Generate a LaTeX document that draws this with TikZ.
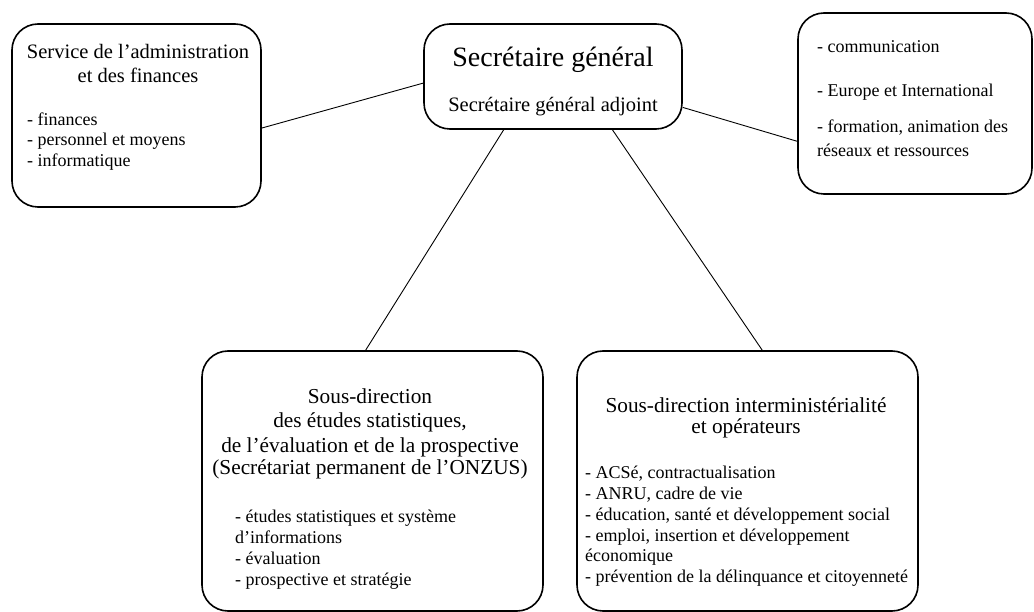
\documentclass[tikz,border=0pt]{standalone}
\usepackage{fontspec}
\setmainfont{Liberation Serif}
\usetikzlibrary{calc}
\tikzset{
  box/.style={draw=black, line width=1.6pt, rounded corners=26pt, inner sep=0pt, rectangle},
  link/.style={draw=black, line width=0.9pt},
  ctr/.style={inner sep=0pt, anchor=base},
  lft/.style={inner sep=0pt, anchor=base west},
  big/.style={font=\fontsize{28}{32}\selectfont},
  head/.style={font=\fontsize{20.5}{24}\selectfont},
  headb/.style={font=\fontsize{21.3}{24}\selectfont},
  item/.style={font=\fontsize{18}{20}\selectfont}
}
\begin{document}
\begin{tikzpicture}[x=1pt,y=-1pt]
\useasboundingbox (0,0) rectangle (1034,612);
% boxes
\node[box, minimum width=249pt, minimum height=183pt] (adm) at (136.5,115.5) {};
\node[box, minimum width=258pt, minimum height=105pt] (sg) at (553,76.5) {};
\node[box, minimum width=234pt, minimum height=181pt] (com) at (915,103.5) {};
\node[box, minimum width=341pt, minimum height=260pt] (etu) at (372.5,481) {};
\node[box, minimum width=341pt, minimum height=260pt] (ope) at (747.5,481) {};
% connectors
\draw[link] ($(adm.north east)!0.568!(adm.south east)$) -- ($(sg.north west)!0.562!(sg.south west)$);
\draw[link] ($(sg.north east)!0.79!(sg.south east)$) -- ($(com.north west)!0.707!(com.south west)$);
\draw[link] ($(sg.south west)!0.31!(sg.south east)$) -- ($(etu.north west)!0.48!(etu.north east)$);
\draw[link] ($(sg.south west)!0.729!(sg.south east)$) -- ($(ope.north west)!0.543!(ope.north east)$);
% centre
\node[ctr, big] (sg1) at (553,67) {Secrétaire général};
\node[ctr, head] (sg2) at (553,112) {Secrétaire général adjoint};
% left
\node[ctr, head] (adm1) at (138,59) {Service de l’administration};
\node[ctr, head] (adm2) at (138,83) {et des finances};
\node[lft, item] (adm3) at (27,126) {- finances};
\node[lft, item] (adm4) at (27,146) {- personnel et moyens};
\node[lft, item] (adm5) at (27,167) {- informatique};
% right
\node[lft, item] (com1) at (817,53) {- communication};
\node[lft, item] (com2) at (817,97) {- Europe et International};
\node[lft, item] (com3) at (817,133) {- formation, animation des};
\node[lft, item] (com4) at (817,157) {réseaux et ressources};
% bottom left
\node[ctr, headb] (etu1) at (370,403) {Sous-direction};
\node[ctr, headb] (etu2) at (370,427) {des études statistiques,};
\node[ctr, headb] (etu3) at (370,452) {de l’évaluation et de la prospective};
\node[ctr, headb] (etu4) at (370,474) {(Secrétariat permanent de l’ONZUS)};
\node[lft, item] (etu5) at (235,522) {- études statistiques et système};
\node[lft, item] (etu6) at (235,543) {d’informations};
\node[lft, item] (etu7) at (235,564) {- évaluation};
\node[lft, item] (etu8) at (235,585) {- prospective et stratégie};
% bottom right
\node[ctr, headb] (ope1) at (746,413) {Sous-direction interministérialité};
\node[ctr, headb] (ope2) at (746,433) {et opérateurs};
\node[lft, item] (ope3) at (585,478) {- ACSé, contractualisation};
\node[lft, item] (ope4) at (585,499) {- ANRU, cadre de vie};
\node[lft, item] (ope5) at (585,520) {- éducation, santé et développement social};
\node[lft, item] (ope6) at (585,541) {- emploi, insertion et développement};
\node[lft, item] (ope7) at (585,561) {économique};
\node[lft, item] (ope8) at (585,582) {- prévention de la délinquance et citoyenneté};
\end{tikzpicture}
\end{document}
